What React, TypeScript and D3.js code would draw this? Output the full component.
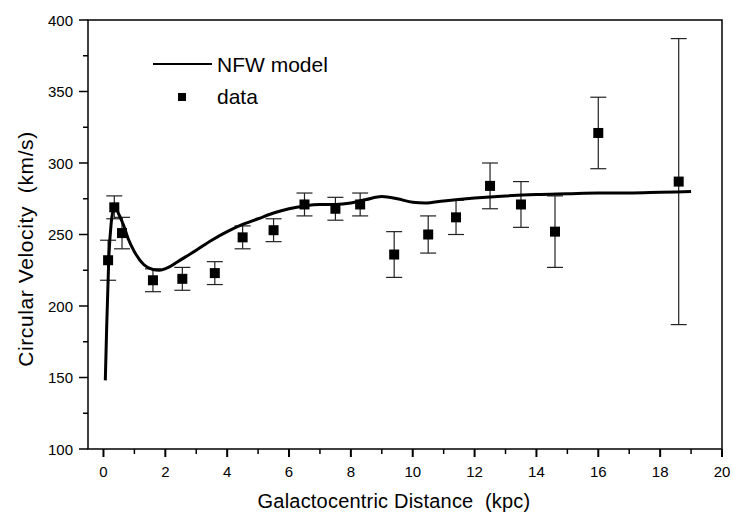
import React from 'react';
import * as d3 from 'd3';

// measured rotation curve (kpc, km/s, +/- error)
const dataR = [0.15, 0.35, 0.6, 1.6, 2.55, 3.6, 4.5, 5.5, 6.5, 7.5, 8.3, 9.4, 10.5, 11.4, 12.5, 13.5, 14.6, 16.0, 18.6];
const dataV = [232, 269, 251, 218, 219, 223, 248, 253, 271, 268, 271, 236, 250, 262, 284, 271, 252, 321, 287];
const dataErr = [14, 8, 11, 8, 8, 8, 8, 8, 8, 8, 8, 16, 13, 12, 16, 16, 25, 25, 100];

// NFW model curve
const modelR = [0.06, 0.1, 0.17, 0.25, 0.32, 0.4, 0.5, 0.66, 0.8, 1.0, 1.3, 1.6, 1.8, 2.1, 2.4, 3.0, 3.5, 4.0, 4.5, 5.0, 5.5, 6.0, 6.5, 7.0, 7.5, 8.0, 8.5, 9.0, 9.5, 10.0, 10.4, 11.0, 12.0, 13.0, 14.0, 15.0, 16.0, 17.0, 18.0, 19.0];
const modelV = [148, 182, 232, 258, 267, 268, 264, 256, 247, 238, 229, 225.5, 225, 227, 231, 239, 246, 252, 257, 261, 265, 268, 270, 271, 271, 272, 274.5, 276.5, 275, 272.5, 272, 273.5, 275.5, 277, 278, 278.5, 279, 279, 279.5, 280];

const xMajor = [0, 2, 4, 6, 8, 10, 12, 14, 16, 18, 20];
const xMinor = [1, 3, 5, 7, 9, 11, 13, 15, 17, 19];
const yMajor = [100, 150, 200, 250, 300, 350, 400];
const yMinor = [125, 175, 225, 275, 325, 375];

const font = '"Liberation Sans", Arial, sans-serif';

export default function App() {
  const width = 733;
  const height = 516;
  const left = 88, right = 722, top = 20, bottom = 449;

  const x = d3.scaleLinear().domain([-0.5, 20]).range([left, right]);
  const y = d3.scaleLinear().domain([100, 400]).range([bottom, top]);

  const line = d3.line<number>()
    .x((d, i) => x(modelR[i]))
    .y(d => y(d))
    .curve(d3.curveMonotoneX);

  return (
    <svg width={width} height={height} style={{ position: 'absolute', left: 0, top: 0, background: '#fff' }}
      fontFamily={font}>
      <rect x={0} y={0} width={width} height={height} fill="#fff" />

      {/* frame */}
      <rect x={left} y={top} width={right - left} height={bottom - top} fill="none" stroke="#000" strokeWidth={1.5} />

      {/* x axis ticks */}
      {xMajor.map(t => (
        <g key={'xm' + t}>
          <line x1={x(t)} x2={x(t)} y1={bottom} y2={bottom + 8} stroke="#000" strokeWidth={2} />
          <text x={x(t)} y={477} fontSize={15} textAnchor="middle">{t}</text>
        </g>
      ))}
      {xMinor.map(t => (
        <line key={'xn' + t} x1={x(t)} x2={x(t)} y1={bottom} y2={bottom + 5} stroke="#000" strokeWidth={1.5} />
      ))}

      {/* y axis ticks */}
      {yMajor.map(t => (
        <g key={'ym' + t}>
          <line x1={left - 9} x2={left} y1={y(t)} y2={y(t)} stroke="#000" strokeWidth={1.5} />
          <text x={73} y={y(t) + 5.5} fontSize={15} textAnchor="end">{t}</text>
        </g>
      ))}
      {yMinor.map(t => (
        <line key={'yn' + t} x1={left - 5} x2={left} y1={y(t)} y2={y(t)} stroke="#000" strokeWidth={1.5} />
      ))}

      {/* axis titles */}
      <text x={394} y={508} fontSize={20} textAnchor="middle" letterSpacing={0.2}>
        Galactocentric Distance{'\u00a0\u00a0'}(kpc)
      </text>
      <text transform={`translate(33, 249) rotate(-90)`} fontSize={21} textAnchor="middle" letterSpacing={0.6}>
        Circular Velocity{'\u00a0\u00a0'}(km/s)
      </text>

      {/* error bars */}
      {dataR.map((r, i) => {
        const cx = x(r);
        const y1 = y(dataV[i] + dataErr[i]);
        const y2 = y(dataV[i] - dataErr[i]);
        return (
          <g key={'e' + i} stroke="#222" strokeWidth={1.2}>
            <line x1={cx} x2={cx} y1={y1} y2={y2} />
            <line x1={cx - 8} x2={cx + 8} y1={y1} y2={y1} />
            <line x1={cx - 8} x2={cx + 8} y1={y2} y2={y2} />
          </g>
        );
      })}

      {/* model curve */}
      <path d={line(modelV) || ''} fill="none" stroke="#000" strokeWidth={3} strokeLinejoin="round" />

      {/* data squares */}
      {dataR.map((r, i) => (
        <rect key={'p' + i} x={x(r) - 5} y={y(dataV[i]) - 5} width={10} height={10} fill="#000" />
      ))}

      {/* legend */}
      <line x1={153} x2={212} y1={64} y2={64} stroke="#000" strokeWidth={2} />
      <text x={217} y={72} fontSize={21}>NFW model</text>
      <rect x={178} y={93} width={8} height={8} fill="#000" />
      <text x={217} y={104} fontSize={21}>data</text>
    </svg>
  );
}
